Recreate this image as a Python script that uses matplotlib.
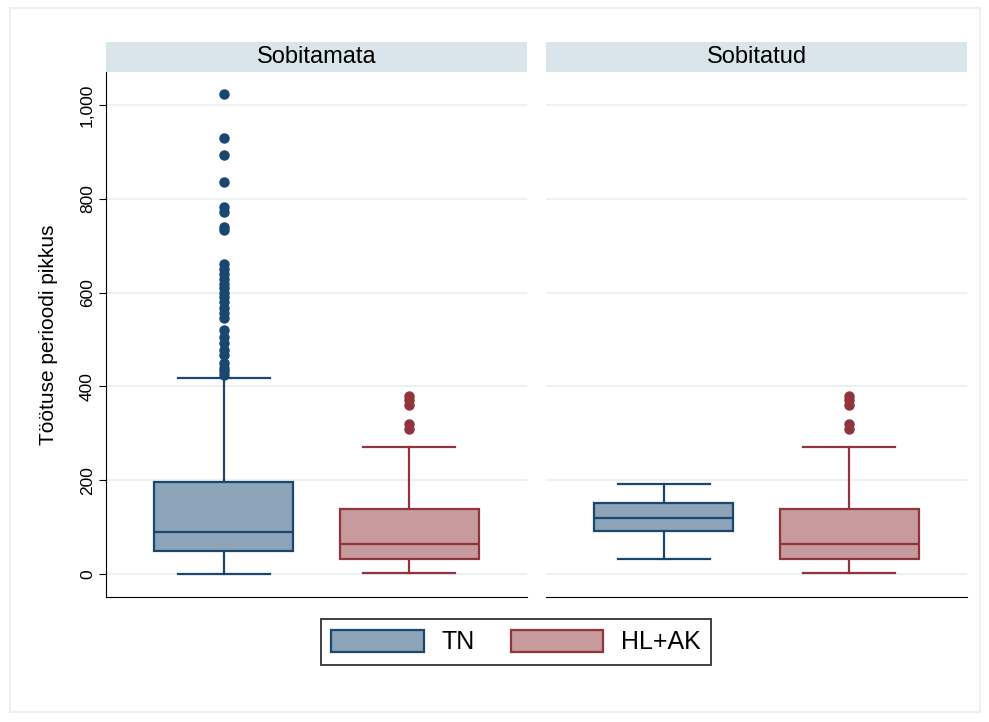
import matplotlib
matplotlib.use("Agg")
import matplotlib.pyplot as plt
from matplotlib.patches import Patch, Rectangle

panels = ["Sobitamata", "Sobitatud"]
groups = ["TN", "HL+AK"]

# stats per panel per group: (whislo, q1, med, q3, whishi)
tn_stats = [(0, 49, 90, 196, 418), (32, 92, 119, 151, 192)]
hl_stats = [(3, 32, 64, 139, 271), (3, 32, 64, 139, 271)]
tn_fliers = [
    [1023, 930, 893, 836, 783, 772, 740, 733, 661, 651, 640, 628, 618, 610,
     600, 590, 580, 568, 556, 546, 520, 505, 492, 478, 467, 450, 440, 432, 425],
    [],
]
hl_fliers = [[380, 370, 360, 320, 310], [380, 370, 360, 320, 310]]

yticks = [0, 200, 400, 600, 800, 1000]
ytick_labels = ["0", "200", "400", "600", "800", "1,000"]

navy = "#1a476f"
maroon = "#90353b"
navy_fill = "#8da3b7"
maroon_fill = "#c79a9d"
grid_c = "#eaf2f3"
strip_c = "#d9e4eb"

plt.rcParams['font.family'] = ['Liberation Sans', 'DejaVu Sans']

fig = plt.figure(figsize=(9.89, 7.22), dpi=100)
W, H = 989, 722

# outer light frame
fig.patches.append(Rectangle((10 / W, 1 - 712 / H), 970 / W, 704 / H, transform=fig.transFigure,
                             fill=False, edgecolor="#e6eef1", lw=1.2))


def fx(px):
    return px / W


def fy(py):
    return 1 - py / H


panel_x = [106, 546]
pw = 421
top, bot = 72, 597
for i, name in enumerate(panels):
    ax = fig.add_axes([fx(panel_x[i]), fy(bot), pw / W, (bot - top) / H])
    sax = fig.add_axes([fx(panel_x[i]), fy(top), pw / W, (top - 42) / H])
    sax.set_facecolor(strip_c)
    for s in sax.spines.values():
        s.set_visible(False)
    sax.set_xticks([]); sax.set_yticks([])
    sax.text(0.5, 0.5, name, ha="center", va="center", fontsize=17)

    stats = []
    for st, fl, lab in [(tn_stats[i], tn_fliers[i], groups[0]), (hl_stats[i], hl_fliers[i], groups[1])]:
        stats.append(dict(whislo=st[0], q1=st[1], med=st[2], q3=st[3], whishi=st[4], fliers=fl, label=lab))
    for k, (col, fc) in enumerate([(navy, navy_fill), (maroon, maroon_fill)]):
        ax.bxp([stats[k]], positions=[0.28 + 0.44 * k], widths=0.33, capwidths=0.22,
               patch_artist=True, showfliers=True,
               boxprops=dict(facecolor=fc, edgecolor=col, lw=1.6),
               medianprops=dict(color=col, lw=1.6),
               whiskerprops=dict(color=col, lw=1.6),
               capprops=dict(color=col, lw=1.6),
               flierprops=dict(marker="o", markerfacecolor=col, markeredgecolor=col, markersize=6.5))
    ax.set_xlim(0, 1)
    ax.set_ylim(-49, 1070)
    ax.set_xticks([])
    ax.set_yticks(yticks)
    ax.grid(axis="y", color=grid_c, lw=1.5)
    ax.set_axisbelow(True)
    for s in ["top", "right"]:
        ax.spines[s].set_visible(False)
    ax.spines["bottom"].set_color("#000000")
    ax.spines["bottom"].set_linewidth(0.8)
    if i == 0:
        ax.set_yticklabels(ytick_labels, rotation=90, va="center", fontsize=12.5)
        ax.tick_params(axis="y", length=5, width=0.8, pad=3)
        ax.spines["left"].set_linewidth(0.8)
        ax.set_ylabel("Töötuse perioodi pikkus", fontsize=15, labelpad=16)
    else:
        ax.spines["left"].set_visible(False)
        ax.tick_params(axis="y", length=0, labelleft=False)

handles = [Patch(facecolor=navy_fill, edgecolor=navy, lw=1.6, label=groups[0]),
           Patch(facecolor=maroon_fill, edgecolor=maroon, lw=1.6, label=groups[1])]
leg = fig.legend(handles=handles, loc="center", bbox_to_anchor=(fx(516), fy(642)), ncol=2,
                 fontsize=18, frameon=True, fancybox=False, edgecolor="black",
                 handlelength=3.7, handleheight=1.0, columnspacing=1.45, handletextpad=0.7,
                 borderpad=0.42)
leg.get_frame().set_linewidth(1.3)

fig.savefig("out.png", dpi=100)
